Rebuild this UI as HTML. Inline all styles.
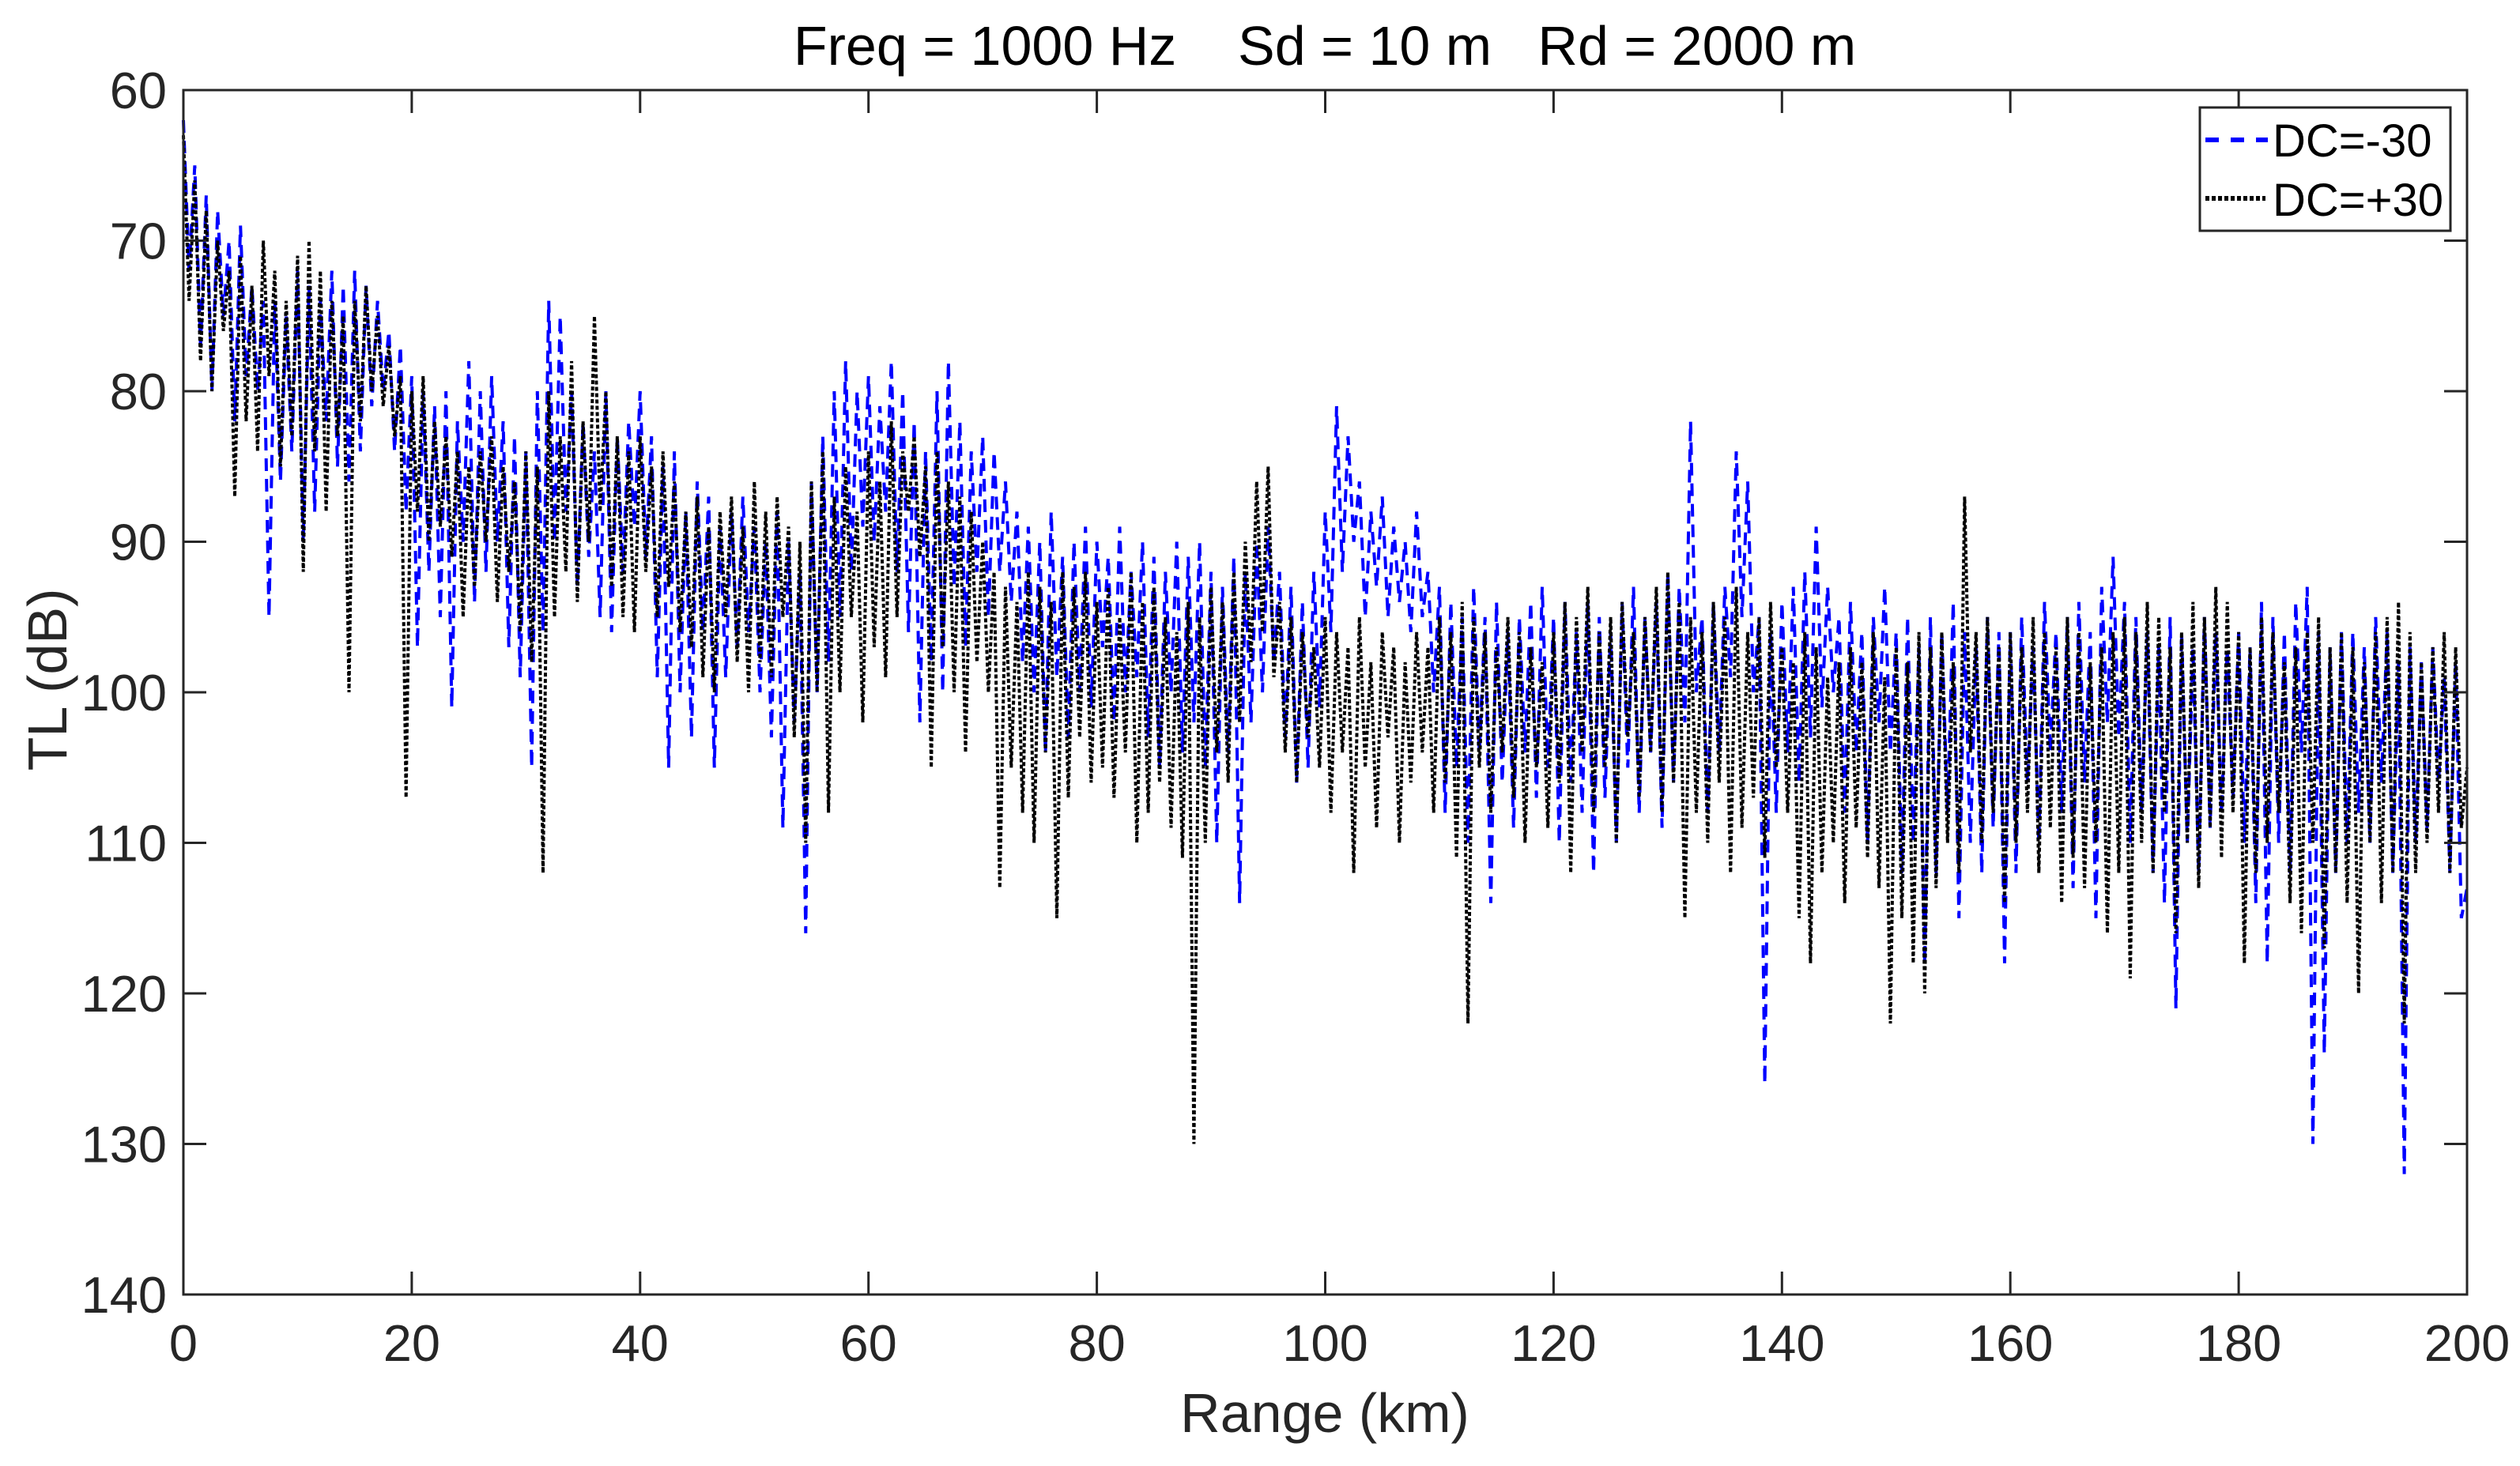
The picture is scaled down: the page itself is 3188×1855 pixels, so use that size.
<!DOCTYPE html>
<html><head><meta charset="utf-8"><style>
html,body{margin:0;padding:0;background:#fff;}
svg text{font-family:"Liberation Sans",Arial,sans-serif;fill:#262626;}
</style></head><body>
<svg id="chart" width="3188" height="1850" viewBox="0 0 3188 1850" xmlns="http://www.w3.org/2000/svg">
<rect width="3188" height="1850" fill="#fff"/>
<text x="1676" y="82" font-size="70" text-anchor="middle" style="fill:#000" xml:space="preserve">Freq = 1000 Hz    Sd = 10 m   Rd = 2000 m</text>
<g id="series"></g>
<g id="axes"></g>
<text x="1676" y="1812" font-size="70" text-anchor="middle">Range (km)</text>
<text x="0" y="0" font-size="70" text-anchor="middle" transform="translate(84,860) rotate(-90)">TL (dB)</text>
<g>
<rect x="2783" y="136" width="317" height="156" fill="#fff" stroke="#262626" stroke-width="3"/>
<line x1="2790" y1="177" x2="2869" y2="177" stroke="#0000ff" stroke-width="6" stroke-dasharray="17 15"/>
<text x="2875" y="198" font-size="58" style="fill:#000">DC=-30</text>
<line x1="2790" y1="251" x2="2866" y2="251" stroke="#000" stroke-width="6" stroke-dasharray="5 3"/>
<text x="2875" y="273" font-size="58" style="fill:#000">DC=+30</text>
</g>
</svg>
<script>
const rangeStep = 0.5;
const xTicks = [0,20,40,60,80,100,120,140,160,180,200];
const yTicks = [60,70,80,90,100,110,120,130,140];
const tlDcMinus30 = [
62,72,65,77,67,80,68,75,70,82,69,79,73,80,74,95,74,86,75,84,
72,90,73,88,74,82,72,85,73,86,72,84,73,81,74,80,76,84,77,88,
79,97,80,92,81,95,80,101,82,90,78,94,80,92,79,90,82,97,83,99,
84,105,80,96,74,90,75,88,80,93,82,91,84,95,80,96,83,92,82,89,
80,91,83,99,85,105,84,100,88,103,86,96,87,105,89,99,88,97,87,96,
89,100,90,103,88,109,90,102,92,116,86,100,83,98,80,95,78,92,80,89,
79,90,81,88,78,92,80,96,82,102,84,98,80,100,78,93,82,97,84,92,
83,95,84,92,86,94,88,98,89,100,90,104,88,99,91,103,90,100,89,101,
90,97,91,102,89,100,92,99,90,103,91,105,92,100,90,104,91,102,90,105,
92,110,93,104,91,114,92,102,90,100,89,98,92,103,93,106,94,105,92,101,
88,96,81,92,83,90,86,95,88,93,87,95,89,94,90,96,88,95,92,100,
93,108,94,105,95,110,93,104,95,114,94,106,96,109,95,104,94,107,93,105,
95,110,94,106,96,108,94,112,95,107,96,110,94,105,93,108,95,104,94,109,
92,106,93,102,82,100,95,108,94,104,93,99,84,95,86,100,95,126,96,108,
94,104,93,106,92,103,89,101,93,100,95,108,94,104,96,110,95,102,93,104,
96,112,95,110,97,118,95,112,96,108,94,115,96,110,97,112,95,109,96,118,
96,112,95,106,97,110,94,104,96,108,95,113,94,106,96,115,93,102,91,103,
94,110,95,108,96,112,97,114,95,121,96,110,97,112,95,109,96,108,97,107,
96,110,97,114,94,118,95,110,96,112,94,104,93,130,96,124,97,112,96,110,
96,108,97,110,95,106,96,112,98,132,97,110,98,109,97,106,99,112,98,115,
113];
const tlDcPlus30 = [
63,74,66,78,68,80,70,76,72,87,71,82,73,84,70,79,72,85,74,83,
71,92,70,84,72,88,74,83,75,100,74,82,73,80,75,81,77,83,79,107,
80,88,79,90,82,89,83,91,84,95,85,93,84,90,83,94,85,92,86,96,
84,98,85,112,80,95,83,92,78,94,82,90,75,88,80,93,83,95,84,96,
83,92,85,95,84,93,86,96,88,97,87,99,89,100,88,95,87,98,89,100,
86,98,88,99,87,95,89,103,90,110,86,100,84,108,87,100,85,95,88,102,
84,97,86,99,82,95,84,88,83,91,85,105,84,97,86,100,87,104,88,98,
90,100,92,113,93,105,94,108,92,110,93,104,94,115,92,107,93,103,92,106,
94,105,93,107,95,104,92,110,94,108,93,106,95,109,96,111,94,130,95,110,
93,104,94,106,92,102,90,98,86,96,85,99,94,104,95,106,96,103,97,105,
95,108,96,104,97,112,95,105,98,109,96,103,97,110,98,106,96,104,97,108,
95,106,96,111,94,122,95,105,96,108,97,104,95,107,96,110,97,105,98,109,
96,106,94,112,95,104,93,108,96,105,95,110,94,103,96,107,95,104,93,108,
92,106,94,115,95,108,96,110,94,106,95,112,93,109,96,107,95,111,94,105,
97,108,98,115,96,118,97,112,99,110,98,114,97,109,98,111,96,113,99,122,
97,115,98,118,96,120,97,113,96,110,98,112,87,104,96,110,95,108,97,114,
96,110,97,108,95,112,96,109,97,114,95,111,96,113,98,110,97,116,96,112,
95,119,96,110,94,112,95,108,97,116,96,110,94,113,95,109,93,111,94,108,
96,118,97,112,95,110,96,108,98,114,97,116,96,110,95,117,97,112,96,114,
97,120,98,110,96,114,95,112,94,122,96,112,98,110,97,108,96,112,97,109,
105];

const NS = 'http://www.w3.org/2000/svg';
const L = 232, R = 3121, T = 114, B = 1638;
const xMin = 0, xMax = 200, yMin = 60, yMax = 140;
function xScale(v){ return L + (v - xMin) / (xMax - xMin) * (R - L); }
function yScale(v){ return T + (v - yMin) / (yMax - yMin) * (B - T); }

const series = document.getElementById('series');
function drawLine(vals, color, dash, name){
  let d = '';
  vals.forEach((v,i)=>{ d += (i ? 'L' : 'M') + xScale(i*rangeStep).toFixed(1) + ',' + yScale(v).toFixed(1); });
  const p = document.createElementNS(NS,'path');
  p.setAttribute('d', d);
  p.setAttribute('fill','none');
  p.setAttribute('stroke', color);
  p.setAttribute('stroke-width','4');
  p.setAttribute('stroke-dasharray', dash);
  p.setAttribute('stroke-linejoin','miter');
  
  
  series.appendChild(p);
}
drawLine(tlDcMinus30, '#0000ff', '16 10', 'line-dc-minus30');
drawLine(tlDcPlus30, '#000000', '5 3', 'line-dc-plus30');

const axes = document.getElementById('axes');
const frame = document.createElementNS(NS,'rect');
frame.setAttribute('x', L); frame.setAttribute('y', T);
frame.setAttribute('width', R-L); frame.setAttribute('height', B-T);
frame.setAttribute('fill','none'); frame.setAttribute('stroke','#262626'); frame.setAttribute('stroke-width','3');


axes.appendChild(frame);

xTicks.forEach(t=>{
  const x = xScale(t);
  [[B, B-29],[T, T+29]].forEach(([a,b])=>{
    const ln = document.createElementNS(NS,'line');
    ln.setAttribute('x1',x); ln.setAttribute('x2',x); ln.setAttribute('y1',a); ln.setAttribute('y2',b);
    ln.setAttribute('stroke','#262626'); ln.setAttribute('stroke-width','3');
    
    
    axes.appendChild(ln);
  });
  const tx = document.createElementNS(NS,'text');
  tx.setAttribute('x', x); tx.setAttribute('y', 1722);
  tx.setAttribute('font-size','65'); tx.setAttribute('text-anchor','middle');
  tx.textContent = t;
  
  
  axes.appendChild(tx);
});
yTicks.forEach(t=>{
  const y = yScale(t);
  [[L, L+29],[R, R-29]].forEach(([a,b])=>{
    const ln = document.createElementNS(NS,'line');
    ln.setAttribute('x1',a); ln.setAttribute('x2',b); ln.setAttribute('y1',y); ln.setAttribute('y2',y);
    ln.setAttribute('stroke','#262626'); ln.setAttribute('stroke-width','3');
    
    
    axes.appendChild(ln);
  });
  const tx = document.createElementNS(NS,'text');
  tx.setAttribute('x', 211); tx.setAttribute('y', y + 23);
  tx.setAttribute('font-size','65'); tx.setAttribute('text-anchor','end');
  tx.textContent = t;
  
  
  axes.appendChild(tx);
});
</script>
</body></html>
